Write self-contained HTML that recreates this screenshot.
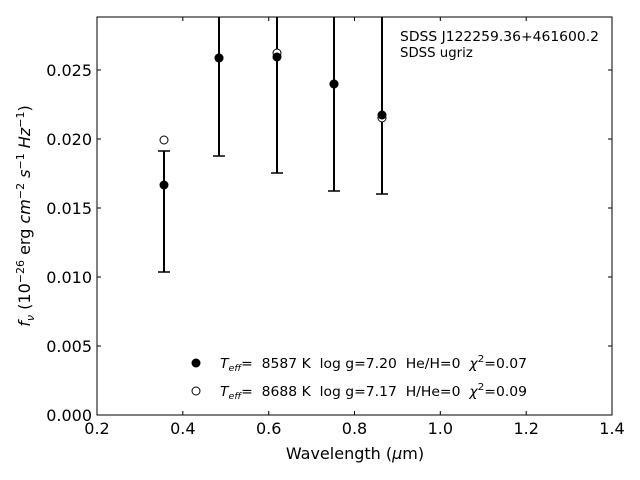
<!DOCTYPE html>
<html><head><style>body{margin:0;background:#fff}svg{display:block}text{white-space:pre}</style></head><body>
<svg width="640" height="480" xmlns="http://www.w3.org/2000/svg" font-family="DejaVu Sans, Liberation Sans, sans-serif" xml:space="preserve">
<rect x="97" y="17" width="515" height="398" fill="none" stroke="#000" stroke-width="1"/>
<g stroke="#000" stroke-width="1">
<line x1="97" y1="415" x2="97" y2="411"/><line x1="182.8" y1="415" x2="182.8" y2="411"/><line x1="268.7" y1="415" x2="268.7" y2="411"/><line x1="354.5" y1="415" x2="354.5" y2="411"/><line x1="440.3" y1="415" x2="440.3" y2="411"/><line x1="526.2" y1="415" x2="526.2" y2="411"/><line x1="612" y1="415" x2="612" y2="411"/>
<line x1="97" y1="17" x2="97" y2="21"/><line x1="182.8" y1="17" x2="182.8" y2="21"/><line x1="268.7" y1="17" x2="268.7" y2="21"/><line x1="354.5" y1="17" x2="354.5" y2="21"/><line x1="440.3" y1="17" x2="440.3" y2="21"/><line x1="526.2" y1="17" x2="526.2" y2="21"/>
<line x1="97" y1="346" x2="101" y2="346"/><line x1="97" y1="277" x2="101" y2="277"/><line x1="97" y1="208" x2="101" y2="208"/><line x1="97" y1="139" x2="101" y2="139"/><line x1="97" y1="70" x2="101" y2="70"/>
<line x1="612" y1="346" x2="608" y2="346"/><line x1="612" y1="277" x2="608" y2="277"/><line x1="612" y1="208" x2="608" y2="208"/><line x1="612" y1="139" x2="608" y2="139"/><line x1="612" y1="70" x2="608" y2="70"/>
</g>
<g font-size="16" text-anchor="middle">
<text x="97" y="434">0.2</text><text x="182.8" y="434">0.4</text><text x="268.7" y="434">0.6</text><text x="354.5" y="434">0.8</text><text x="440.3" y="434">1.0</text><text x="526.2" y="434">1.2</text><text x="612" y="434">1.4</text>
</g>
<g font-size="16" text-anchor="end">
<text x="92" y="421">0.000</text><text x="92" y="352">0.005</text><text x="92" y="283">0.010</text><text x="92" y="214">0.015</text><text x="92" y="145">0.020</text><text x="92" y="76">0.025</text>
</g>
<text x="355" y="459" font-size="16" text-anchor="middle">Wavelength (<tspan font-style="italic">μ</tspan>m)</text>
<text transform="translate(30,216) rotate(-90)" font-size="16" text-anchor="middle"><tspan font-style="italic">f</tspan><tspan font-style="italic" font-size="11" dy="4">ν</tspan><tspan dy="-4"> (10</tspan><tspan font-size="11" dy="-6">−26</tspan><tspan dy="6"> erg </tspan><tspan font-style="italic">cm</tspan><tspan font-size="11" dy="-6">−2</tspan><tspan dy="6" font-style="italic"> s</tspan><tspan font-size="11" dy="-6">−1</tspan><tspan dy="6" font-style="italic"> Hz</tspan><tspan font-size="11" dy="-6">−1</tspan><tspan dy="6">)</tspan></text>
<g stroke="#000" stroke-width="2">
<line x1="164" y1="272" x2="164" y2="151"/><line x1="158" y1="272" x2="170" y2="272" stroke-width="1.5"/><line x1="158" y1="151" x2="170" y2="151" stroke-width="1.5"/>
<line x1="219" y1="156" x2="219" y2="17"/><line x1="213" y1="156" x2="225" y2="156" stroke-width="1.5"/>
<line x1="277" y1="173" x2="277" y2="17"/><line x1="271" y1="173" x2="283" y2="173" stroke-width="1.5"/>
<line x1="334" y1="191" x2="334" y2="17"/><line x1="328" y1="191" x2="340" y2="191" stroke-width="1.5"/>
<line x1="382" y1="194" x2="382" y2="17"/><line x1="376" y1="194" x2="388" y2="194" stroke-width="1.5"/>
</g>
<g fill="#fff" stroke="#000" stroke-width="1">
<circle cx="164" cy="140" r="4"/><circle cx="219" cy="58" r="4"/><circle cx="277" cy="53" r="4"/><circle cx="334" cy="84" r="4"/><circle cx="382" cy="118" r="4"/>
<circle cx="196" cy="391" r="4"/>
</g>
<g fill="#000">
<circle cx="164" cy="185" r="4.5"/><circle cx="219" cy="58" r="4.5"/><circle cx="277" cy="57" r="4.5"/><circle cx="334" cy="84" r="4.5"/><circle cx="382" cy="115" r="4.5"/>
<circle cx="196" cy="363" r="4.5"/>
</g>
<g font-size="13.3">
<text x="400" y="41" textLength="199" lengthAdjust="spacingAndGlyphs">SDSS J122259.36+461600.2</text>
<text x="400" y="57">SDSS ugriz</text>
<text x="220" y="368" textLength="307" lengthAdjust="spacingAndGlyphs"><tspan font-style="italic">T</tspan><tspan font-style="italic" font-size="9" dy="3">eff</tspan><tspan dy="-3">=  8587 K  log g=7.20  He/H=0  </tspan><tspan font-style="italic">χ</tspan><tspan font-size="10" dy="-6">2</tspan><tspan dy="6">=0.07</tspan></text>
<text x="220" y="396" textLength="307" lengthAdjust="spacingAndGlyphs"><tspan font-style="italic">T</tspan><tspan font-style="italic" font-size="9" dy="3">eff</tspan><tspan dy="-3">=  8688 K  log g=7.17  H/He=0  </tspan><tspan font-style="italic">χ</tspan><tspan font-size="10" dy="-6">2</tspan><tspan dy="6">=0.09</tspan></text>
</g>
</svg>
</body></html>
